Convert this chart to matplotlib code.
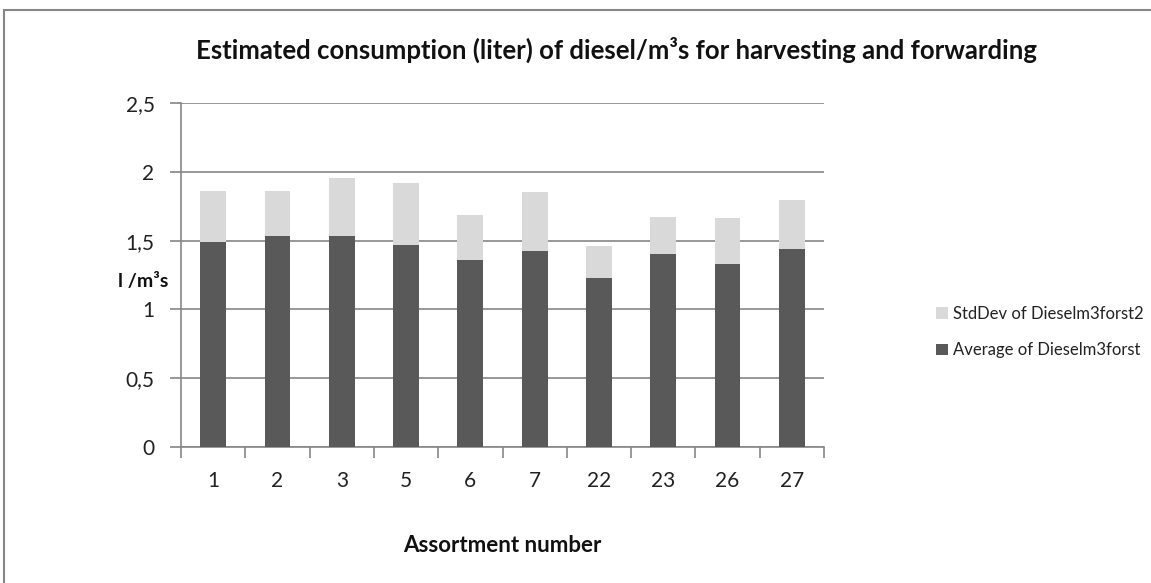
import matplotlib
matplotlib.use("Agg")
import matplotlib.pyplot as plt
from matplotlib.patches import Rectangle
import numpy as np

categories = ["1", "2", "3", "5", "6", "7", "22", "23", "26", "27"]
average = [1.488, 1.536, 1.536, 1.470, 1.357, 1.422, 1.225, 1.405, 1.330, 1.441]
stddev = [0.373, 0.325, 0.417, 0.447, 0.327, 0.429, 0.236, 0.269, 0.335, 0.355]
yticks = [0, 0.5, 1, 1.5, 2, 2.5]
ytick_labels = ["0", "0,5", "1", "1,5", "2", "2,5"]

plt.rcParams['font.family'] = ['Lato', 'DejaVu Sans']

W, H = 1151, 583
fig = plt.figure(figsize=(W / 100, H / 100), dpi=100)
ax = fig.add_axes([181 / W, 1 - 447 / H, (824 - 181) / W, (447 - 103) / H])

x = np.arange(len(categories))
dark = "#595959"
light = "#d9d9d9"
b1 = ax.bar(x, average, width=0.4, color=dark, zorder=3, label="Average of Dieselm3forst")
b2 = ax.bar(x, stddev, width=0.4, bottom=average, color=light, zorder=3,
            label="StdDev of Dieselm3forst2")

ax.set_xlim(-0.5, len(categories) - 0.5)
ax.set_ylim(0, 2.5)
ax.set_yticks(yticks)
ax.set_yticklabels(ytick_labels)
ax.set_xticks(x)
ax.set_xticklabels(categories)
ax.set_xticks(np.arange(len(categories) + 1) - 0.5, minor=True)

grid_c = "#868686"
ax.yaxis.grid(True, color=grid_c, linewidth=1.2, zorder=0)
for s in ["top", "right"]:
    ax.spines[s].set_visible(False)
for s in ["left", "bottom"]:
    ax.spines[s].set_color(grid_c)
    ax.spines[s].set_linewidth(1.2)

ax.tick_params(axis="x", which="major", length=0, pad=17, labelsize=15, labelcolor="#222222")
ax.tick_params(axis="x", which="minor", length=8, width=1.2, color=grid_c, direction="out")
ax.tick_params(axis="y", which="major", length=8, width=1.2, color=grid_c, direction="out",
               pad=11, labelsize=15, labelcolor="#222222")

fig.text(616 / W, 1 - 50 / H, "Estimated consumption (liter) of diesel/m³s for harvesting and forwarding",
         ha="center", va="center", fontsize=18.5, fontweight="bold", color="#111111")
fig.text(143 / W, 1 - 282 / H, "l /m³s", ha="center", va="center", fontsize=14,
         fontweight="bold", color="#111111")
fig.text(502 / W, 1 - 546 / H, "Assortment number", ha="center", va="center", fontsize=16,
         fontweight="bold", color="#111111")

leg = ax.legend(handles=[b2, b1], loc="center left", bbox_to_anchor=(936 / W, 1 - 332 / H),
                bbox_transform=fig.transFigure, frameon=False, fontsize=12,
                handlelength=0.7, handleheight=0.7, handletextpad=0.3, labelspacing=1.25,
                borderaxespad=0, borderpad=0)
for t in leg.get_texts():
    t.set_color("#222222")

fig.patches.append(Rectangle((4 / W, -0.1), 1.2, 1 - 10 / H + 0.1, transform=fig.transFigure,
                             fill=False, edgecolor="#868686", linewidth=1.5))

fig.savefig("out.png", dpi=100)
